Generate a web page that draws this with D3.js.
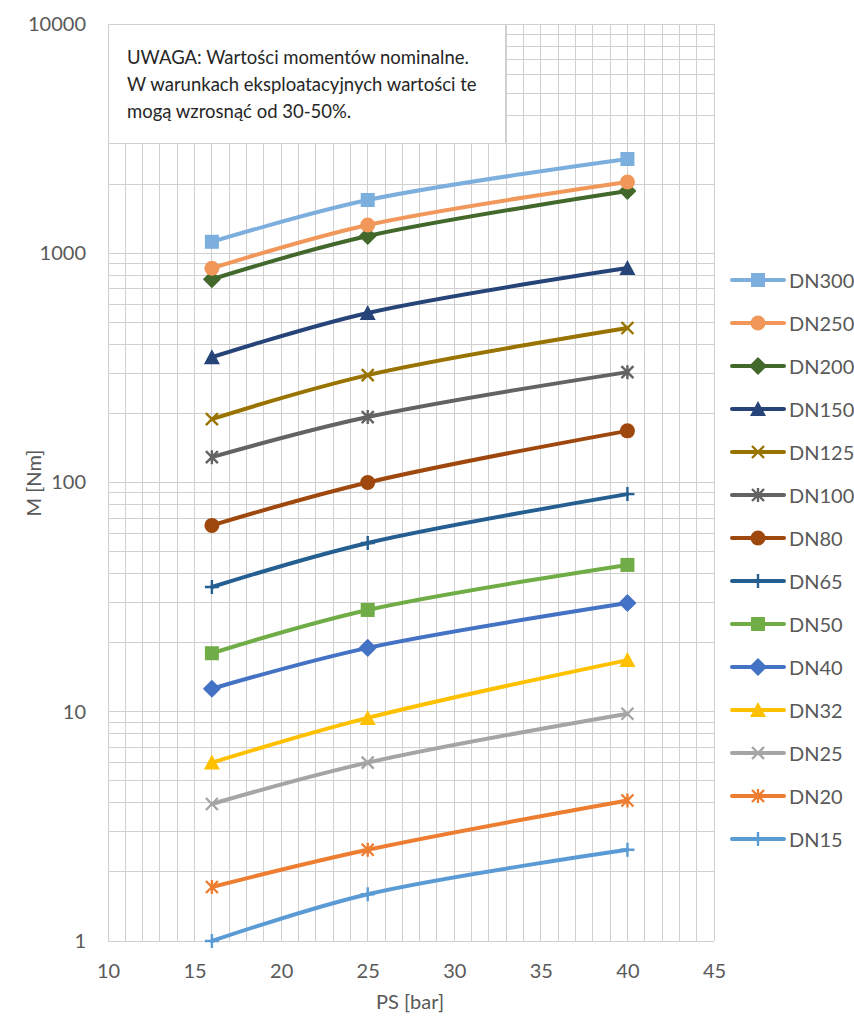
<!DOCTYPE html>
<html>
<head>
<meta charset="utf-8">
<script src="https://cdn.jsdelivr.net/npm/d3@7"></script>
<style>
  html, body { margin: 0; padding: 0; background: #fff; }
  svg { display: block; }
  text { font-family: Lato, "Open Sans", sans-serif; }
</style>
</head>
<body>
<svg id="chart" width="854" height="1019"></svg>
<script>
// ---- Data ----
const psValues = [16, 25, 40];
const xTicks = [10, 15, 20, 25, 30, 35, 40, 45];
const yTicks = [1, 10, 100, 1000, 10000];
const seriesNames = ["DN15","DN20","DN25","DN32","DN40","DN50","DN65","DN80","DN100","DN125","DN150","DN200","DN250","DN300"];
const dn15  = [1.0, 1.6, 2.5];
const dn20  = [1.72, 2.5, 4.1];
const dn25  = [3.96, 6.0, 9.8];
const dn32  = [6.0, 9.4, 16.8];
const dn40  = [12.6, 19.0, 29.8];
const dn50  = [18.0, 27.8, 43.7];
const dn65  = [35, 54.5, 89];
const dn80  = [65, 100, 168];
const dn100 = [129, 193, 303];
const dn125 = [189, 294, 472];
const dn150 = [352, 549, 862];
const dn200 = [770, 1189, 1869];
const dn250 = [860, 1328, 2046];
const dn300 = [1122, 1707, 2577];
const seriesValues = [dn15, dn20, dn25, dn32, dn40, dn50, dn65, dn80, dn100, dn125, dn150, dn200, dn250, dn300];
const seriesColors = ["#5B9BD5","#ED7D31","#A5A5A5","#FFC000","#4472C4","#70AD47","#255E91","#9E480E","#636363","#997300","#264478","#43682B","#F1975A","#7CAFDD"];
const seriesMarkers = ["plus","star","x","triangle","diamond","square","plus","circle","star","x","triangle","diamond","circle","square"];
const noteLines = ["UWAGA: Wartości momentów nominalne.", "W warunkach eksploatacyjnych wartości te", "mogą wzrosnąć od 30-50%."];

// ---- Layout ----
const svg = d3.select("#chart");
const L = 108, R = 714, T = 24, B = 941;
const x = d3.scaleLinear().domain([10, 45]).range([L, R]);
const y = d3.scaleLog().domain([1, 10000]).range([B, T]);
const textColor = "#595959";
const gridColor = "#D0D0D0";

// gridlines
const grid = svg.append("g");
grid.selectAll("line.vx").data(d3.range(10, 46, 1)).join("line")
  .attr("x1", d => x(d)).attr("x2", d => x(d)).attr("y1", T).attr("y2", B)
  .attr("stroke", gridColor).attr("stroke-width", 1).attr("shape-rendering", "crispEdges");
const yGrid = [];
[1, 10, 100, 1000].forEach(dec => { for (let k = 1; k <= 9; k++) yGrid.push(dec * k); });
yGrid.push(10000);
grid.selectAll("line.hy").data(yGrid).join("line")
  .attr("x1", L).attr("x2", R).attr("y1", d => y(d)).attr("y2", d => y(d))
  .attr("stroke", gridColor).attr("stroke-width", 1).attr("shape-rendering", "crispEdges");

// axes
const yAxis = svg.append("g").attr("transform", `translate(${L},0)`)
  .call(d3.axisLeft(y).tickValues(yTicks).tickFormat(d3.format("d")).tickSize(0).tickPadding(22));
const xAxis = svg.append("g").attr("transform", `translate(0,${B})`)
  .call(d3.axisBottom(x).tickValues(xTicks).tickFormat(d3.format("d")).tickSize(0).tickPadding(23));
[yAxis, xAxis].forEach(a => {
  a.select(".domain").remove();
  a.selectAll("text").attr("fill", textColor).style("font-size", "20px").style("font-family", "Lato, 'Open Sans', sans-serif");
});

// axis titles
svg.append("text").attr("x", 410).attr("y", 1001).attr("text-anchor", "middle")
  .attr("dominant-baseline", "central").attr("fill", textColor).style("font-size", "20px").text("PS [bar]");
svg.append("text").attr("transform", "translate(33,483) rotate(-90)").attr("text-anchor", "middle")
  .attr("dominant-baseline", "central").attr("fill", textColor).style("font-size", "20px").text("M [Nm]");

// markers
function drawMarker(g, type, color, cx, cy) {
  const m = g.append("g").attr("transform", `translate(${cx},${cy})`);
  if (type === "square") {
    m.append("rect").attr("x", -7).attr("y", -7).attr("width", 14).attr("height", 14).attr("fill", color);
  } else if (type === "circle") {
    m.append("circle").attr("r", 7.5).attr("fill", color);
  } else if (type === "diamond") {
    m.append("path").attr("d", "M0,-8 L8,0 L0,8 L-8,0 Z").attr("fill", color)
      .attr("stroke", color).attr("stroke-width", 1.5).attr("stroke-linejoin", "round");
  } else if (type === "triangle") {
    m.append("path").attr("d", "M0,-8 L8,7 L-8,7 Z").attr("fill", color);
  } else if (type === "x") {
    m.append("path").attr("d", "M-6,-6 L6,6 M-6,6 L6,-6").attr("stroke", color).attr("stroke-width", 2.4).attr("fill", "none");
  } else if (type === "star") {
    m.append("path").attr("d", "M-6,-6 L6,6 M-6,6 L6,-6 M0,-7 L0,7").attr("stroke", color).attr("stroke-width", 2.4).attr("fill", "none");
  } else if (type === "plus") {
    m.append("path").attr("d", "M0,-7 L0,7 M-7,0 L7,0").attr("stroke", color).attr("stroke-width", 2.4).attr("fill", "none");
  }
}

// series
const table = seriesNames.map((name, i) => ({
  name, color: seriesColors[i], marker: seriesMarkers[i],
  points: psValues.map((p, j) => ({ p, v: seriesValues[i][j] }))
}));
const line = d3.line().x(d => x(d.p)).y(d => y(d.v)).curve(d3.curveCatmullRom.alpha(0.5));
const plot = svg.append("g");
table.forEach(s => {
  const g = plot.append("g");
  g.append("path").attr("d", line(s.points)).attr("fill", "none").attr("stroke", s.color)
    .attr("stroke-width", 4).attr("stroke-linecap", "round").attr("stroke-linejoin", "round");
  s.points.forEach(d => drawMarker(g, s.marker, s.color, x(d.p), y(d.v)));
});

// note box
const note = svg.append("g");
note.append("rect").attr("x", L).attr("y", T).attr("width", 505 - L).attr("height", 143 - T)
  .attr("fill", "#fff").attr("stroke", "#D0D0D0").attr("stroke-width", 1).attr("shape-rendering", "crispEdges");
note.selectAll("text").data(noteLines).join("text")
  .attr("x", 127).attr("y", (d, i) => 57 + i * 27).attr("dominant-baseline", "central")
  .attr("fill", "#262626").style("font-size", "18.5px").text(d => d);

// legend (top to bottom: DN300 ... DN15)
const legendItems = table.slice().reverse();
const legend = svg.append("g");
legendItems.forEach((s, i) => {
  const ly = 280 + i * 43;
  const g = legend.append("g");
  g.append("line").attr("x1", 732).attr("x2", 784).attr("y1", ly).attr("y2", ly)
    .attr("stroke", s.color).attr("stroke-width", 4).attr("stroke-linecap", "round");
  drawMarker(g, s.marker, s.color, 758, ly);
  g.append("text").attr("x", 789).attr("y", ly).attr("dominant-baseline", "central")
    .attr("fill", textColor).style("font-size", "20px").text(s.name);
});
</script>
</body>
</html>
